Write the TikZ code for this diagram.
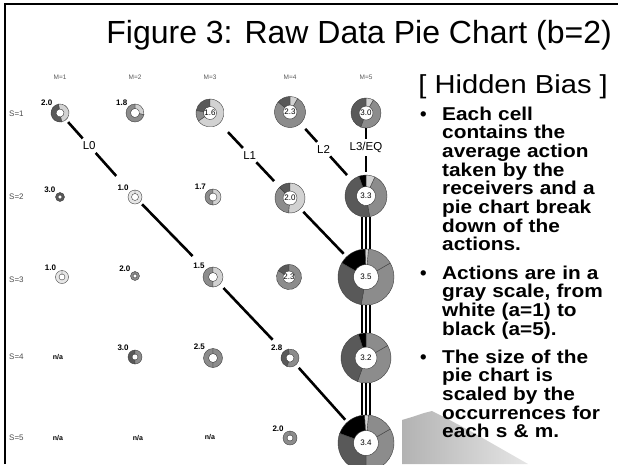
\documentclass[tikz,border=0pt]{standalone}
\usepackage{fontspec}
\setmainfont{Liberation Sans}
\newfontfamily\widesans[FakeStretch=1.12]{Liberation Sans}
\usepackage{tikz}

\definecolor{wgray}{HTML}{E6E6E6}
\definecolor{lgray}{HTML}{D2D2D2}
\definecolor{mgray}{HTML}{8C8C8C}
\definecolor{dgray}{HTML}{595959}

\newcommand{\donut}[4]{%
\foreach \sa/\ea/\col in {#4}
  \filldraw [wedge, fill=\col] ([shift={(\sa:#2)}]#1.center) arc [start angle=\sa, end angle=\ea, radius=#2]
    -- ([shift={(\ea:#3)}]#1.center) arc [start angle=\ea, end angle=\sa, radius=#3] -- cycle;
}

\begin{document}
\begin{tikzpicture}[x=1pt, y=1pt,
  every node/.style={inner sep=0pt},
  label distance=1.5pt,
  pie/.style={circle, minimum size=#1},
  val/.style={font=\bfseries\fontsize{8}{8}\selectfont},
  vlabel/.style={label={[val]135:#1}},
  inval/.style={font=\fontsize{8}{8}\selectfont},
  wedge/.style={draw=black!75, line width=0.4},
  head/.style={font=\fontsize{6.5}{6.5}\selectfont, text=black!65},
  rowhead/.style={anchor=west, font=\fontsize{8}{8}\selectfont, text=black!70},
  na/.style={font=\bfseries\fontsize{7}{7}\selectfont},
  lname/.style={font=\fontsize{11.5}{11.5}\selectfont, inner sep=3pt},
  link/.style={line width=2.6},
  triple/.style={line width=1.5},
  bullet/.style={anchor=base west, text width=180pt, align=left, font=\widesans\bfseries\fontsize{18.6}{18.7}\selectfont},
  dot/.style={anchor=base west, font=\bfseries\fontsize{18.6}{18.7}\selectfont}]

\useasboundingbox (0,0) rectangle (618,-464);
\clip (0,0) rectangle (618,-464);
\fill [white] (0,0) rectangle (618,-464);

\shade [left color=gray!60, right color=gray!20] (402,-464) -- (402,-420) -- (412,-417) -- (424,-413) -- (432,-411)
  -- (446,-418) -- (472,-432) -- (500,-448) -- (528,-464) -- cycle;

\draw [line width=2.5] (5,-464) -- (5,-4) -- (618,-4);

\node [anchor=base east, font=\fontsize{32}{32}\selectfont] (title) at (612,-43) {Figure 3: Raw Data Pie Chart (b=2)};
\node [anchor=base east, font=\widesans\fontsize{26}{26}\selectfont] (bias) at (608,-93) {[ Hidden Bias ]};

\node [dot] (d1) at (420,-120) {•};
\node [bullet] (b1) at (442,-120) {Each cell\\ contains the\\ average action\\ taken by the\\ receivers and a\\ pie chart break\\ down of the\\ actions.};
\node [dot] (d2) at (420,-279) {•};
\node [bullet] (b2) at (442,-279) {Actions are in a\\ gray scale, from\\ white (a=1) to\\ black (a=5).};
\node [dot] (d3) at (420,-363) {•};
\node [bullet] (b3) at (442,-363) {The size of the\\ pie chart is\\ scaled by the\\ occurrences for\\ each s \& m.};

\node [head] (h1) at (60,-77) {M=1};
\node [head] (h2) at (135,-77) {M=2};
\node [head] (h3) at (210,-77) {M=3};
\node [head] (h4) at (290,-77) {M=4};
\node [head] (h5) at (366,-77) {M=5};

\node [rowhead] (s1) at (9,-114) {S=1};
\node [rowhead] (s2) at (9,-197) {S=2};
\node [rowhead] (s3) at (9,-280) {S=3};
\node [rowhead] (s4) at (9,-357) {S=4};
\node [rowhead] (s5) at (9,-438) {S=5};

\node [pie=18, vlabel=2.0] (p11) at (60,-113) {};
\donut{p11}{9}{4}{-80/100/lgray, 100/280/dgray}
\node [pie=18, vlabel=1.8] (p21) at (135,-113) {};
\donut{p21}{9}{4.5}{-10/90/lgray, 90/350/mgray}
\node [pie=28, inval] (p31) at (210,-113) {1.6};
\donut{p31}{14}{6.5}{90/170/dgray, 170/215/mgray, 215/450/lgray}
\node [pie=31, inval] (p41) at (290,-112) {2.3};
\donut{p41}{15.5}{7}{60/90/lgray, 90/140/dgray, 140/420/mgray}
\node [pie=30, inval] (p51) at (366,-113) {3.0};
\donut{p51}{15}{7}{60/90/lgray, 90/250/dgray, 250/420/mgray}

\node [pie=9, vlabel=3.0] (p12) at (60,-197) {};
\donut{p12}{4.5}{2}{90/450/dgray}
\node [pie=14, vlabel=1.0] (p22) at (135,-197) {};
\donut{p22}{7}{3.5}{90/450/wgray}
\node [pie=16, vlabel=1.7] (p32) at (213,-197) {};
\donut{p32}{8}{4}{90/270/mgray, -90/90/lgray}
\node [pie=30, inval] (p42) at (290,-198) {2.0};
\donut{p42}{15}{7}{90/135/dgray, 135/265/mgray, 265/450/lgray}
\node [pie=42, inval] (p52) at (366,-196) {3.3};
\donut{p52}{21}{9.5}{-80/65/mgray, 65/90/lgray, 90/110/black, 110/280/dgray}

\node [pie=13, vlabel=1.0] (p13) at (62,-277) {};
\donut{p13}{6.5}{3}{90/450/wgray}
\node [pie=9, vlabel=2.0] (p23) at (135,-276) {};
\donut{p23}{4.5}{2}{90/450/mgray}
\node [pie=20, vlabel=1.5] (p33) at (213,-277) {};
\donut{p33}{10}{4.5}{90/270/mgray, -90/90/lgray}
\node [pie=25, inval] (p43) at (289,-277) {2.3};
\donut{p43}{12.5}{6}{90/150/dgray, 150/450/mgray}
\node [pie=56, inval] (p53) at (366,-277) {3.5};
\donut{p53}{28}{12.5}{-100/30/mgray, 30/85/mgray, 85/92/lgray, 92/150/black, 150/260/dgray}

\node [na] (n14) at (58,-357) {n/a};
\node [pie=14, vlabel=3.0] (p24) at (135,-357) {};
\donut{p24}{7}{3}{90/270/dgray, -90/90/mgray}
\node [pie=19, vlabel=2.5] (p34) at (213,-358) {};
\donut{p34}{9.5}{4.5}{90/270/mgray, -90/90/mgray}
\node [pie=18, vlabel=2.8] (p44) at (290,-358) {};
\donut{p44}{9}{4}{100/250/dgray, 250/460/mgray}
\node [pie=50, inval] (p54) at (366,-358) {3.2};
\donut{p54}{25}{11}{-110/30/mgray, 30/90/mgray, 90/108/black, 108/250/dgray}

\node [na] (n15) at (58,-438) {n/a};
\node [na] (n25) at (138,-438) {n/a};
\node [na] (n35) at (210,-437) {n/a};
\node [pie=14, vlabel=2.0] (p45) at (290,-438) {};
\donut{p45}{7}{3}{90/450/mgray}
\node [pie=56, inval] (p55) at (366,-443) {3.4};
\donut{p55}{28}{12.5}{-90/30/mgray, 30/85/mgray, 85/93/lgray, 93/160/black, 160/270/dgray}

\path (p11) -- node [lname, pos=0.36] (l0) {L0} (p22);
\path (p31) -- node [lname, pos=0.5] (l1) {L1} (p42);
\path (p41) -- node [lname, pos=0.45] (l2) {L2} (p52);
\path (p51) -- node [lname, pos=0.42] (l3) {L3/EQ} (p52);

\draw [link, shorten <=3] (p11) -- (l0);
\draw [link, shorten >=21] (l0) -- (p22);
\draw [link, shorten <=3, shorten >=19] (p22) -- (p33);
\draw [link, shorten <=5, shorten >=16] (p33) -- (p44);
\draw [link, shorten <=4, shorten >=3] (p44) -- (p55);
\draw [link, shorten <=12] (p31) -- (l1);
\draw [link, shorten >=8] (l1) -- (p42);
\draw [link, shorten <=4, shorten >=4] (p42) -- (p53);
\draw [link, shorten <=7] (p41) -- (l2);
\draw [link, shorten >=7] (l2) -- (p52);
\draw [link] (p51) -- (l3);
\draw [link, shorten >=3] (l3) -- (p52);
\foreach \d in {-4,0,4} {
  \draw [triple] ([xshift=\d pt]p52.south) -- ([xshift=\d pt]p53.north);
  \draw [triple] ([xshift=\d pt]p53.south) -- ([xshift=\d pt]p54.north);
  \draw [triple] ([xshift=\d pt]p54.south) -- ([xshift=\d pt]p55.north);
}
\end{tikzpicture}
\end{document}
